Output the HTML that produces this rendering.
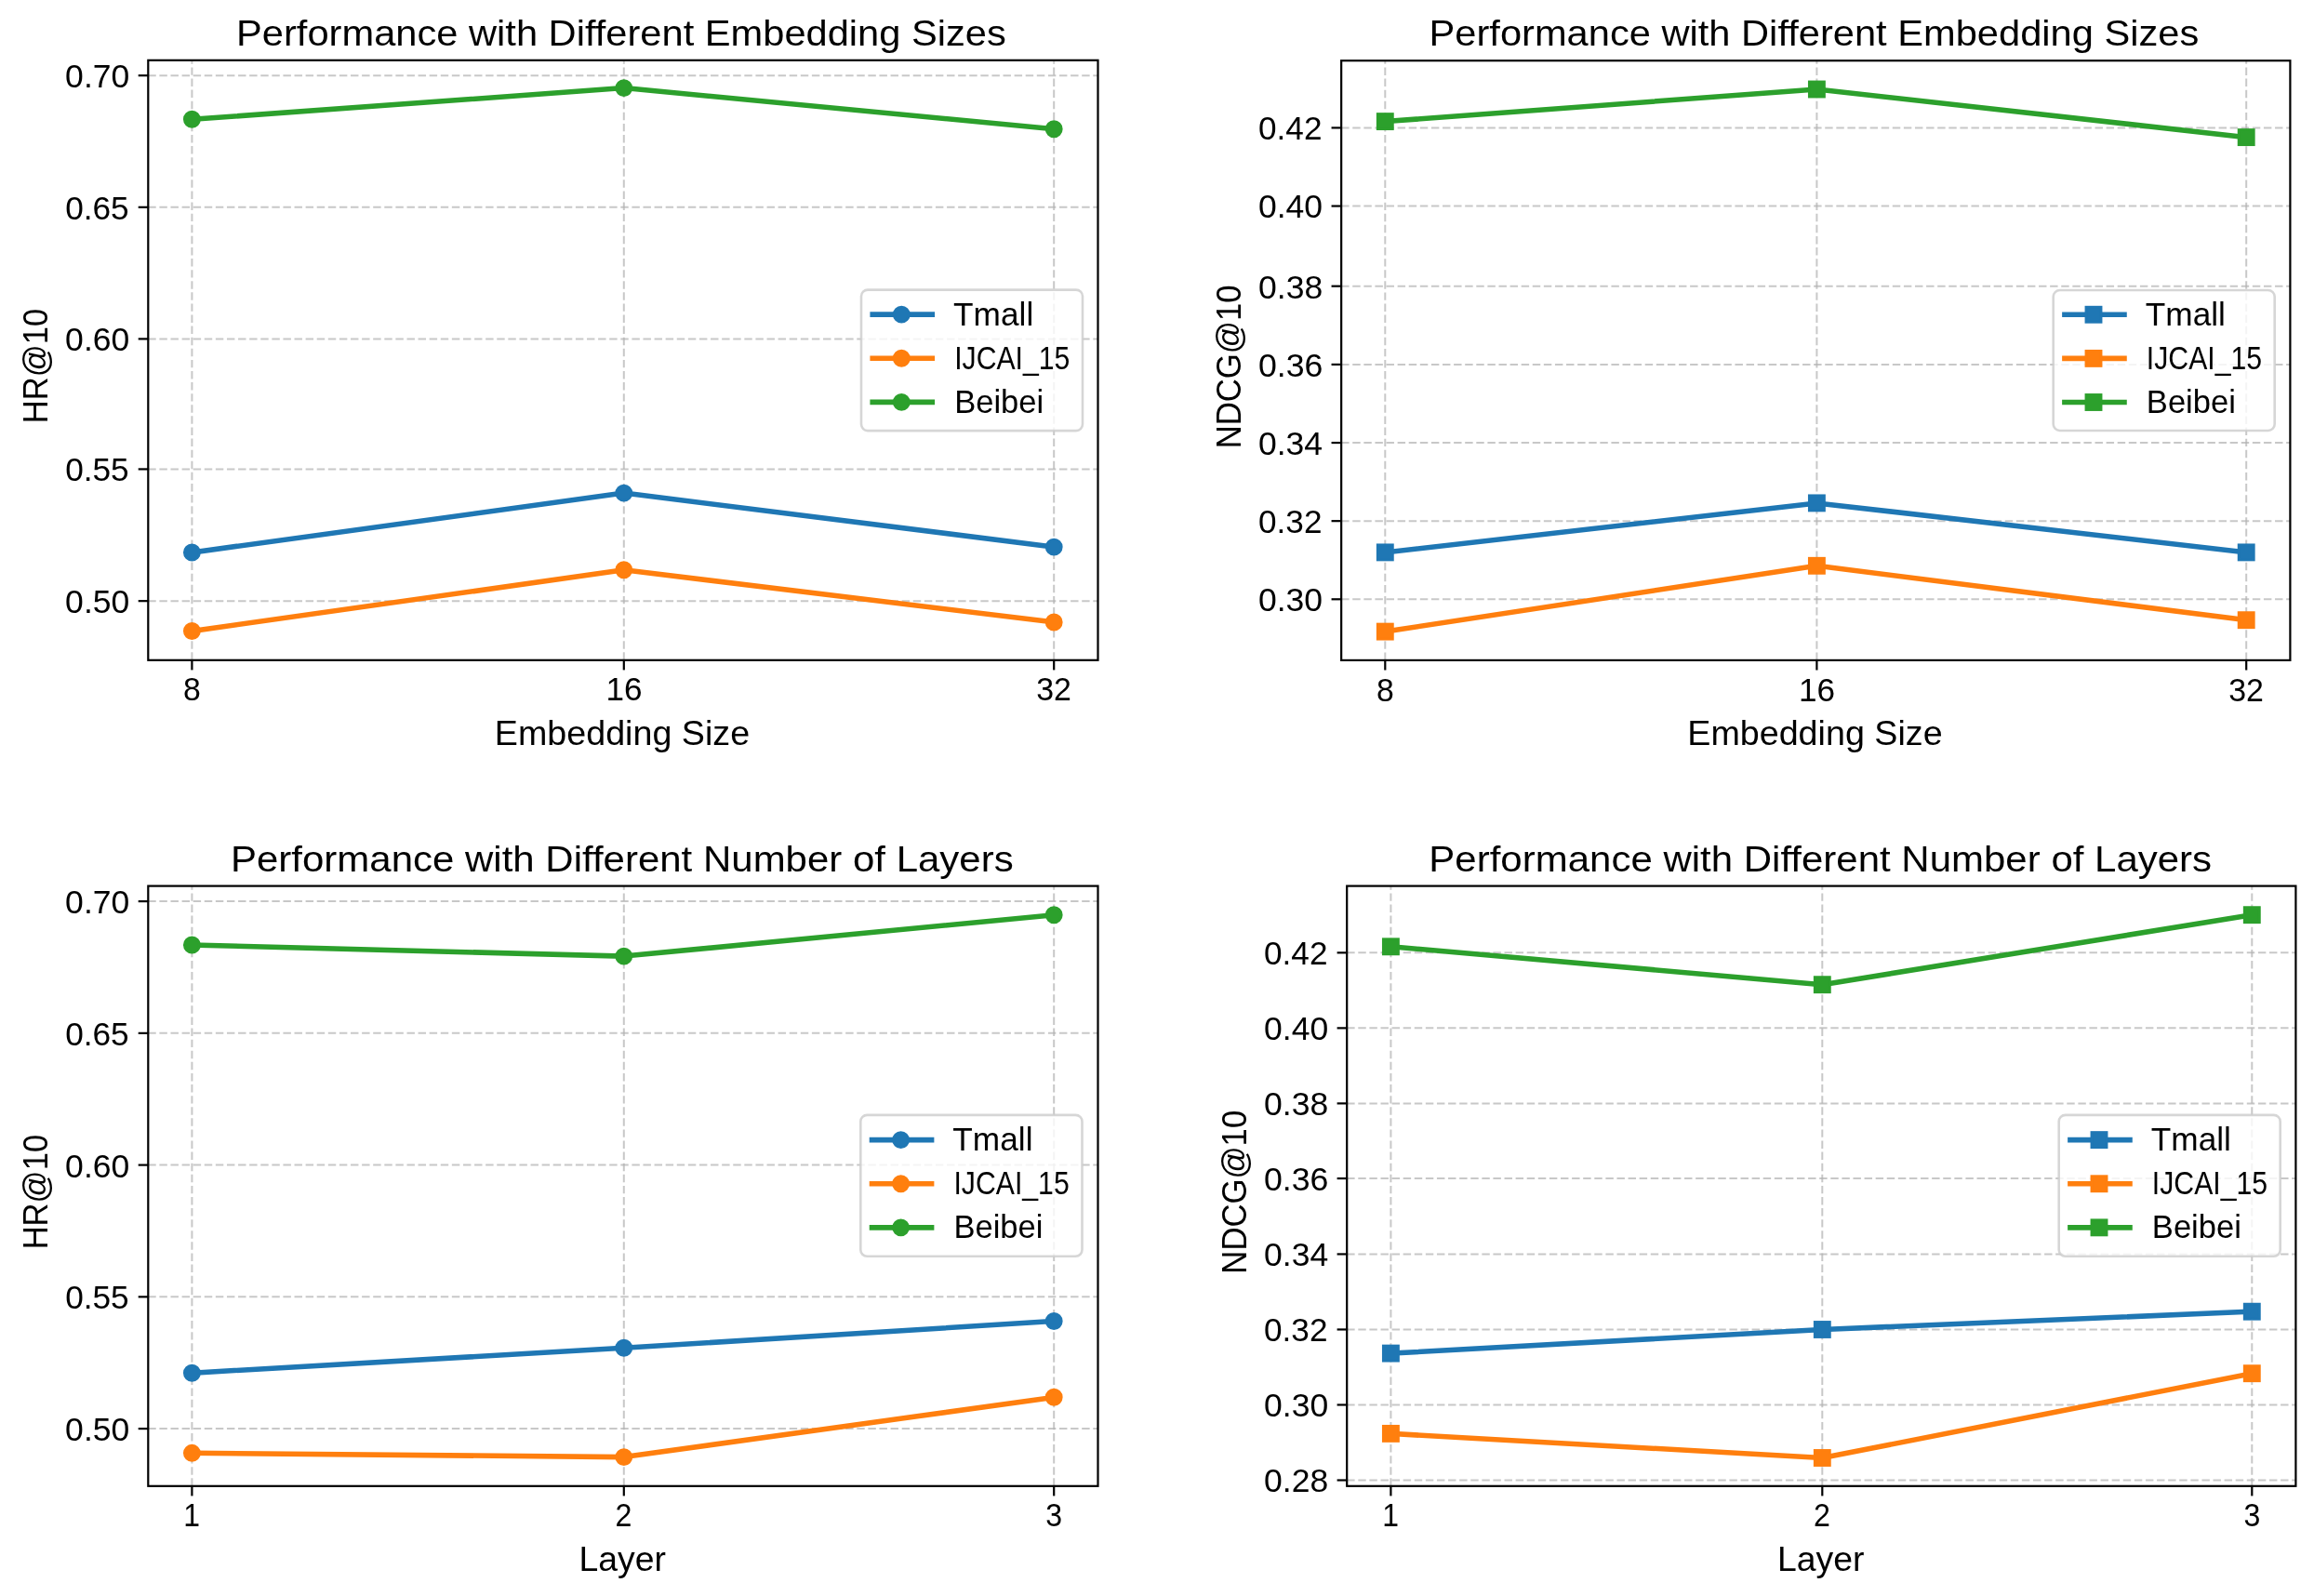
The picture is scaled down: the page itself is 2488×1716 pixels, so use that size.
<!DOCTYPE html>
<html><head><meta charset="utf-8"><title>Performance with Different Embedding Sizes and Number of Layers</title>
<style>
html,body{margin:0;padding:0;background:#fff;}
body{width:2488px;height:1716px;overflow:hidden;}
svg{display:block;}
text{font-family:"Liberation Sans", sans-serif;fill:#000;}
svg{will-change:transform;}
</style></head><body>
<svg width="2488" height="1716" viewBox="0 0 2488 1716">
<rect width="2488" height="1716" fill="#fff"/>
<g id="TL"><line x1="206.4" y1="709.8" x2="206.4" y2="64.8" stroke="#b0b0b0" stroke-opacity="0.7" stroke-width="2.0" stroke-dasharray="8.44 3.655"/>
<line x1="670.8" y1="709.8" x2="670.8" y2="64.8" stroke="#b0b0b0" stroke-opacity="0.7" stroke-width="2.0" stroke-dasharray="8.44 3.655"/>
<line x1="1133.2" y1="709.8" x2="1133.2" y2="64.8" stroke="#b0b0b0" stroke-opacity="0.7" stroke-width="2.0" stroke-dasharray="8.44 3.655"/>
<line x1="159.3" y1="646.18" x2="1180.5" y2="646.18" stroke="#b0b0b0" stroke-opacity="0.7" stroke-width="2.0" stroke-dasharray="8.44 3.655"/>
<line x1="159.3" y1="504.43" x2="1180.5" y2="504.43" stroke="#b0b0b0" stroke-opacity="0.7" stroke-width="2.0" stroke-dasharray="8.44 3.655"/>
<line x1="159.3" y1="364.4" x2="1180.5" y2="364.4" stroke="#b0b0b0" stroke-opacity="0.7" stroke-width="2.0" stroke-dasharray="8.44 3.655"/>
<line x1="159.3" y1="222.8" x2="1180.5" y2="222.8" stroke="#b0b0b0" stroke-opacity="0.7" stroke-width="2.0" stroke-dasharray="8.44 3.655"/>
<line x1="159.3" y1="81.18" x2="1180.5" y2="81.18" stroke="#b0b0b0" stroke-opacity="0.7" stroke-width="2.0" stroke-dasharray="8.44 3.655"/>
<polyline points="206.4,594 670.8,530.1 1133.2,588.1" fill="none" stroke="#1f77b4" stroke-width="5.56" stroke-linejoin="round" stroke-linecap="square"/>
<circle cx="206.4" cy="594" r="8.05" fill="#1f77b4" stroke="#1f77b4" stroke-width="2.78"/>
<circle cx="670.8" cy="530.1" r="8.05" fill="#1f77b4" stroke="#1f77b4" stroke-width="2.78"/>
<circle cx="1133.2" cy="588.1" r="8.05" fill="#1f77b4" stroke="#1f77b4" stroke-width="2.78"/>
<polyline points="206.4,678.5 670.8,612.8 1133.2,669" fill="none" stroke="#ff7f0e" stroke-width="5.56" stroke-linejoin="round" stroke-linecap="square"/>
<circle cx="206.4" cy="678.5" r="8.05" fill="#ff7f0e" stroke="#ff7f0e" stroke-width="2.78"/>
<circle cx="670.8" cy="612.8" r="8.05" fill="#ff7f0e" stroke="#ff7f0e" stroke-width="2.78"/>
<circle cx="1133.2" cy="669" r="8.05" fill="#ff7f0e" stroke="#ff7f0e" stroke-width="2.78"/>
<polyline points="206.4,128.3 670.8,94.6 1133.2,138.7" fill="none" stroke="#2ca02c" stroke-width="5.56" stroke-linejoin="round" stroke-linecap="square"/>
<circle cx="206.4" cy="128.3" r="8.05" fill="#2ca02c" stroke="#2ca02c" stroke-width="2.78"/>
<circle cx="670.8" cy="94.6" r="8.05" fill="#2ca02c" stroke="#2ca02c" stroke-width="2.78"/>
<circle cx="1133.2" cy="138.7" r="8.05" fill="#2ca02c" stroke="#2ca02c" stroke-width="2.78"/>
<rect x="159.3" y="64.8" width="1021.2" height="645" fill="none" stroke="#000" stroke-width="2.2" stroke-linejoin="miter"/>
<line x1="206.4" y1="709.8" x2="206.4" y2="720.4" stroke="#000" stroke-width="2.2"/>
<line x1="670.8" y1="709.8" x2="670.8" y2="720.4" stroke="#000" stroke-width="2.2"/>
<line x1="1133.2" y1="709.8" x2="1133.2" y2="720.4" stroke="#000" stroke-width="2.2"/>
<line x1="148.7" y1="646.18" x2="159.3" y2="646.18" stroke="#000" stroke-width="2.2"/>
<line x1="148.7" y1="504.43" x2="159.3" y2="504.43" stroke="#000" stroke-width="2.2"/>
<line x1="148.7" y1="364.4" x2="159.3" y2="364.4" stroke="#000" stroke-width="2.2"/>
<line x1="148.7" y1="222.8" x2="159.3" y2="222.8" stroke="#000" stroke-width="2.2"/>
<line x1="148.7" y1="81.18" x2="159.3" y2="81.18" stroke="#000" stroke-width="2.2"/>
<text transform="translate(70.12,659.08) scale(1.0330,1)" font-size="34.4">0.50</text>
<text transform="translate(70.14,517.33) scale(1.0243,1)" font-size="34.4">0.55</text>
<text transform="translate(70.12,377.3) scale(1.0330,1)" font-size="34.4">0.60</text>
<text transform="translate(70.14,235.7) scale(1.0243,1)" font-size="34.4">0.65</text>
<text transform="translate(70.12,94.08) scale(1.0330,1)" font-size="34.4">0.70</text>
<text transform="translate(197,753.4) scale(0.9819,1)" font-size="34.4">8</text>
<text transform="translate(651.44,753.4) scale(1.0213,1)" font-size="34.4">16</text>
<text transform="translate(1114.15,753.4) scale(0.9865,1)" font-size="34.4">32</text>
<text transform="translate(254.08,48.8) scale(1.0790,1)" font-size="38.6">Performance with Different Embedding Sizes</text>
<text transform="translate(531.81,800.8) scale(1.0024,1)" font-size="37.6">Embedding Size</text>
<text transform="translate(51.1,455.24) rotate(-90) scale(0.9195,1)" font-size="37.6">HR@10</text>
<rect x="926" y="311.6" width="238" height="151.5" rx="7" ry="7" fill="#fff" fill-opacity="0.8" stroke="#cccccc" stroke-opacity="0.8" stroke-width="2.6"/>
<line x1="938.2" y1="338.1" x2="1002.3" y2="338.1" stroke="#1f77b4" stroke-width="5.56" stroke-linecap="square"/>
<circle cx="969.3" cy="338.1" r="8.05" fill="#1f77b4" stroke="#1f77b4" stroke-width="2.78"/>
<text transform="translate(1025.02,349.6) scale(1.0108,1)" font-size="34.9">Tmall</text>
<line x1="938.2" y1="385.25" x2="1002.3" y2="385.25" stroke="#ff7f0e" stroke-width="5.56" stroke-linecap="square"/>
<circle cx="969.3" cy="385.25" r="8.05" fill="#ff7f0e" stroke="#ff7f0e" stroke-width="2.78"/>
<text transform="translate(1026.17,396.75) scale(0.8659,1)" font-size="34.9">IJCAI_15</text>
<line x1="938.2" y1="432.35" x2="1002.3" y2="432.35" stroke="#2ca02c" stroke-width="5.56" stroke-linecap="square"/>
<circle cx="969.3" cy="432.35" r="8.05" fill="#2ca02c" stroke="#2ca02c" stroke-width="2.78"/>
<text transform="translate(1026.13,443.85) scale(0.9907,1)" font-size="34.9">Beibei</text></g>
<g id="TR"><line x1="1489.3" y1="709.9" x2="1489.3" y2="65.2" stroke="#b0b0b0" stroke-opacity="0.7" stroke-width="2.0" stroke-dasharray="8.44 3.655"/>
<line x1="1953.4" y1="709.9" x2="1953.4" y2="65.2" stroke="#b0b0b0" stroke-opacity="0.7" stroke-width="2.0" stroke-dasharray="8.44 3.655"/>
<line x1="2415.2" y1="709.9" x2="2415.2" y2="65.2" stroke="#b0b0b0" stroke-opacity="0.7" stroke-width="2.0" stroke-dasharray="8.44 3.655"/>
<line x1="1442.15" y1="644.3" x2="2462.4" y2="644.3" stroke="#b0b0b0" stroke-opacity="0.7" stroke-width="2.0" stroke-dasharray="8.44 3.655"/>
<line x1="1442.15" y1="560.18" x2="2462.4" y2="560.18" stroke="#b0b0b0" stroke-opacity="0.7" stroke-width="2.0" stroke-dasharray="8.44 3.655"/>
<line x1="1442.15" y1="476.05" x2="2462.4" y2="476.05" stroke="#b0b0b0" stroke-opacity="0.7" stroke-width="2.0" stroke-dasharray="8.44 3.655"/>
<line x1="1442.15" y1="391.9" x2="2462.4" y2="391.9" stroke="#b0b0b0" stroke-opacity="0.7" stroke-width="2.0" stroke-dasharray="8.44 3.655"/>
<line x1="1442.15" y1="307.68" x2="2462.4" y2="307.68" stroke="#b0b0b0" stroke-opacity="0.7" stroke-width="2.0" stroke-dasharray="8.44 3.655"/>
<line x1="1442.15" y1="221.55" x2="2462.4" y2="221.55" stroke="#b0b0b0" stroke-opacity="0.7" stroke-width="2.0" stroke-dasharray="8.44 3.655"/>
<line x1="1442.15" y1="137.42" x2="2462.4" y2="137.42" stroke="#b0b0b0" stroke-opacity="0.7" stroke-width="2.0" stroke-dasharray="8.44 3.655"/>
<polyline points="1489.3,593.9 1953.4,540.9 2415.2,593.9" fill="none" stroke="#1f77b4" stroke-width="5.56" stroke-linejoin="round" stroke-linecap="square"/>
<rect x="1481.25" y="585.85" width="16.1" height="16.1" fill="#1f77b4" stroke="#1f77b4" stroke-width="2.78" stroke-linejoin="miter"/>
<rect x="1945.35" y="532.85" width="16.1" height="16.1" fill="#1f77b4" stroke="#1f77b4" stroke-width="2.78" stroke-linejoin="miter"/>
<rect x="2407.15" y="585.85" width="16.1" height="16.1" fill="#1f77b4" stroke="#1f77b4" stroke-width="2.78" stroke-linejoin="miter"/>
<polyline points="1489.3,679.1 1953.4,608.3 2415.2,666.7" fill="none" stroke="#ff7f0e" stroke-width="5.56" stroke-linejoin="round" stroke-linecap="square"/>
<rect x="1481.25" y="671.05" width="16.1" height="16.1" fill="#ff7f0e" stroke="#ff7f0e" stroke-width="2.78" stroke-linejoin="miter"/>
<rect x="1945.35" y="600.25" width="16.1" height="16.1" fill="#ff7f0e" stroke="#ff7f0e" stroke-width="2.78" stroke-linejoin="miter"/>
<rect x="2407.15" y="658.65" width="16.1" height="16.1" fill="#ff7f0e" stroke="#ff7f0e" stroke-width="2.78" stroke-linejoin="miter"/>
<polyline points="1489.3,130.6 1953.4,96 2415.2,147.6" fill="none" stroke="#2ca02c" stroke-width="5.56" stroke-linejoin="round" stroke-linecap="square"/>
<rect x="1481.25" y="122.55" width="16.1" height="16.1" fill="#2ca02c" stroke="#2ca02c" stroke-width="2.78" stroke-linejoin="miter"/>
<rect x="1945.35" y="87.95" width="16.1" height="16.1" fill="#2ca02c" stroke="#2ca02c" stroke-width="2.78" stroke-linejoin="miter"/>
<rect x="2407.15" y="139.55" width="16.1" height="16.1" fill="#2ca02c" stroke="#2ca02c" stroke-width="2.78" stroke-linejoin="miter"/>
<rect x="1442.15" y="65.2" width="1020.25" height="644.7" fill="none" stroke="#000" stroke-width="2.2" stroke-linejoin="miter"/>
<line x1="1489.3" y1="709.9" x2="1489.3" y2="720.5" stroke="#000" stroke-width="2.2"/>
<line x1="1953.4" y1="709.9" x2="1953.4" y2="720.5" stroke="#000" stroke-width="2.2"/>
<line x1="2415.2" y1="709.9" x2="2415.2" y2="720.5" stroke="#000" stroke-width="2.2"/>
<line x1="1431.55" y1="644.3" x2="1442.15" y2="644.3" stroke="#000" stroke-width="2.2"/>
<line x1="1431.55" y1="560.18" x2="1442.15" y2="560.18" stroke="#000" stroke-width="2.2"/>
<line x1="1431.55" y1="476.05" x2="1442.15" y2="476.05" stroke="#000" stroke-width="2.2"/>
<line x1="1431.55" y1="391.9" x2="1442.15" y2="391.9" stroke="#000" stroke-width="2.2"/>
<line x1="1431.55" y1="307.68" x2="1442.15" y2="307.68" stroke="#000" stroke-width="2.2"/>
<line x1="1431.55" y1="221.55" x2="1442.15" y2="221.55" stroke="#000" stroke-width="2.2"/>
<line x1="1431.55" y1="137.42" x2="1442.15" y2="137.42" stroke="#000" stroke-width="2.2"/>
<text transform="translate(1352.97,657.2) scale(1.0330,1)" font-size="34.4">0.30</text>
<text transform="translate(1352.99,573.08) scale(1.0226,1)" font-size="34.4">0.32</text>
<text transform="translate(1352.98,488.95) scale(1.0327,1)" font-size="34.4">0.34</text>
<text transform="translate(1352.97,404.8) scale(1.0374,1)" font-size="34.4">0.36</text>
<text transform="translate(1352.97,320.58) scale(1.0345,1)" font-size="34.4">0.38</text>
<text transform="translate(1352.97,234.45) scale(1.0330,1)" font-size="34.4">0.40</text>
<text transform="translate(1352.99,150.32) scale(1.0226,1)" font-size="34.4">0.42</text>
<text transform="translate(1479.9,753.5) scale(0.9819,1)" font-size="34.4">8</text>
<text transform="translate(1934.04,753.5) scale(1.0213,1)" font-size="34.4">16</text>
<text transform="translate(2396.15,753.5) scale(0.9865,1)" font-size="34.4">32</text>
<text transform="translate(1536.53,48.8) scale(1.0790,1)" font-size="38.6">Performance with Different Embedding Sizes</text>
<text transform="translate(1814.26,800.8) scale(1.0024,1)" font-size="37.6">Embedding Size</text>
<text transform="translate(1334.1,482.35) rotate(-90) scale(0.9224,1)" font-size="37.6">NDCG@10</text>
<rect x="2207.7" y="312" width="238" height="151" rx="7" ry="7" fill="#fff" fill-opacity="0.8" stroke="#cccccc" stroke-opacity="0.8" stroke-width="2.6"/>
<line x1="2219.9" y1="338.25" x2="2284" y2="338.25" stroke="#1f77b4" stroke-width="5.56" stroke-linecap="square"/>
<rect x="2242.95" y="330.2" width="16.1" height="16.1" fill="#1f77b4" stroke="#1f77b4" stroke-width="2.78" stroke-linejoin="miter"/>
<text transform="translate(2306.72,349.75) scale(1.0108,1)" font-size="34.9">Tmall</text>
<line x1="2219.9" y1="385.4" x2="2284" y2="385.4" stroke="#ff7f0e" stroke-width="5.56" stroke-linecap="square"/>
<rect x="2242.95" y="377.35" width="16.1" height="16.1" fill="#ff7f0e" stroke="#ff7f0e" stroke-width="2.78" stroke-linejoin="miter"/>
<text transform="translate(2307.87,396.9) scale(0.8659,1)" font-size="34.9">IJCAI_15</text>
<line x1="2219.9" y1="432.5" x2="2284" y2="432.5" stroke="#2ca02c" stroke-width="5.56" stroke-linecap="square"/>
<rect x="2242.95" y="424.45" width="16.1" height="16.1" fill="#2ca02c" stroke="#2ca02c" stroke-width="2.78" stroke-linejoin="miter"/>
<text transform="translate(2307.83,444) scale(0.9907,1)" font-size="34.9">Beibei</text></g>
<g id="BL"><line x1="206.4" y1="1597.8" x2="206.4" y2="952.6" stroke="#b0b0b0" stroke-opacity="0.7" stroke-width="2.0" stroke-dasharray="8.44 3.655"/>
<line x1="670.8" y1="1597.8" x2="670.8" y2="952.6" stroke="#b0b0b0" stroke-opacity="0.7" stroke-width="2.0" stroke-dasharray="8.44 3.655"/>
<line x1="1133.2" y1="1597.8" x2="1133.2" y2="952.6" stroke="#b0b0b0" stroke-opacity="0.7" stroke-width="2.0" stroke-dasharray="8.44 3.655"/>
<line x1="159.3" y1="1536.1" x2="1180.5" y2="1536.1" stroke="#b0b0b0" stroke-opacity="0.7" stroke-width="2.0" stroke-dasharray="8.44 3.655"/>
<line x1="159.3" y1="1394.35" x2="1180.5" y2="1394.35" stroke="#b0b0b0" stroke-opacity="0.7" stroke-width="2.0" stroke-dasharray="8.44 3.655"/>
<line x1="159.3" y1="1252.6" x2="1180.5" y2="1252.6" stroke="#b0b0b0" stroke-opacity="0.7" stroke-width="2.0" stroke-dasharray="8.44 3.655"/>
<line x1="159.3" y1="1110.85" x2="1180.5" y2="1110.85" stroke="#b0b0b0" stroke-opacity="0.7" stroke-width="2.0" stroke-dasharray="8.44 3.655"/>
<line x1="159.3" y1="969.1" x2="1180.5" y2="969.1" stroke="#b0b0b0" stroke-opacity="0.7" stroke-width="2.0" stroke-dasharray="8.44 3.655"/>
<polyline points="206.4,1476.2 670.8,1449.3 1133.2,1420.5" fill="none" stroke="#1f77b4" stroke-width="5.56" stroke-linejoin="round" stroke-linecap="square"/>
<circle cx="206.4" cy="1476.2" r="8.05" fill="#1f77b4" stroke="#1f77b4" stroke-width="2.78"/>
<circle cx="670.8" cy="1449.3" r="8.05" fill="#1f77b4" stroke="#1f77b4" stroke-width="2.78"/>
<circle cx="1133.2" cy="1420.5" r="8.05" fill="#1f77b4" stroke="#1f77b4" stroke-width="2.78"/>
<polyline points="206.4,1562.3 670.8,1566.6 1133.2,1502.3" fill="none" stroke="#ff7f0e" stroke-width="5.56" stroke-linejoin="round" stroke-linecap="square"/>
<circle cx="206.4" cy="1562.3" r="8.05" fill="#ff7f0e" stroke="#ff7f0e" stroke-width="2.78"/>
<circle cx="670.8" cy="1566.6" r="8.05" fill="#ff7f0e" stroke="#ff7f0e" stroke-width="2.78"/>
<circle cx="1133.2" cy="1502.3" r="8.05" fill="#ff7f0e" stroke="#ff7f0e" stroke-width="2.78"/>
<polyline points="206.4,1016 670.8,1028.1 1133.2,983.7" fill="none" stroke="#2ca02c" stroke-width="5.56" stroke-linejoin="round" stroke-linecap="square"/>
<circle cx="206.4" cy="1016" r="8.05" fill="#2ca02c" stroke="#2ca02c" stroke-width="2.78"/>
<circle cx="670.8" cy="1028.1" r="8.05" fill="#2ca02c" stroke="#2ca02c" stroke-width="2.78"/>
<circle cx="1133.2" cy="983.7" r="8.05" fill="#2ca02c" stroke="#2ca02c" stroke-width="2.78"/>
<rect x="159.3" y="952.6" width="1021.2" height="645.2" fill="none" stroke="#000" stroke-width="2.2" stroke-linejoin="miter"/>
<line x1="206.4" y1="1597.8" x2="206.4" y2="1608.4" stroke="#000" stroke-width="2.2"/>
<line x1="670.8" y1="1597.8" x2="670.8" y2="1608.4" stroke="#000" stroke-width="2.2"/>
<line x1="1133.2" y1="1597.8" x2="1133.2" y2="1608.4" stroke="#000" stroke-width="2.2"/>
<line x1="148.7" y1="1536.1" x2="159.3" y2="1536.1" stroke="#000" stroke-width="2.2"/>
<line x1="148.7" y1="1394.35" x2="159.3" y2="1394.35" stroke="#000" stroke-width="2.2"/>
<line x1="148.7" y1="1252.6" x2="159.3" y2="1252.6" stroke="#000" stroke-width="2.2"/>
<line x1="148.7" y1="1110.85" x2="159.3" y2="1110.85" stroke="#000" stroke-width="2.2"/>
<line x1="148.7" y1="969.1" x2="159.3" y2="969.1" stroke="#000" stroke-width="2.2"/>
<text transform="translate(70.12,1549) scale(1.0330,1)" font-size="34.4">0.50</text>
<text transform="translate(70.14,1407.25) scale(1.0243,1)" font-size="34.4">0.55</text>
<text transform="translate(70.12,1265.5) scale(1.0330,1)" font-size="34.4">0.60</text>
<text transform="translate(70.14,1123.75) scale(1.0243,1)" font-size="34.4">0.65</text>
<text transform="translate(70.12,982) scale(1.0330,1)" font-size="34.4">0.70</text>
<text transform="translate(197.37,1641.4) scale(0.9278,1)" font-size="34.4">1</text>
<text transform="translate(661.42,1641.4) scale(0.9363,1)" font-size="34.4">2</text>
<text transform="translate(1124.31,1641.4) scale(0.9329,1)" font-size="34.4">3</text>
<text transform="translate(247.95,937) scale(1.0881,1)" font-size="38.6">Performance with Different Number of Layers</text>
<text transform="translate(622.53,1688.9) scale(0.9940,1)" font-size="37.6">Layer</text>
<text transform="translate(51.1,1343.34) rotate(-90) scale(0.9195,1)" font-size="37.6">HR@10</text>
<rect x="925.3" y="1198.9" width="238.2" height="151.9" rx="7" ry="7" fill="#fff" fill-opacity="0.8" stroke="#cccccc" stroke-opacity="0.8" stroke-width="2.6"/>
<line x1="937.5" y1="1225.6" x2="1001.6" y2="1225.6" stroke="#1f77b4" stroke-width="5.56" stroke-linecap="square"/>
<circle cx="968.6" cy="1225.6" r="8.05" fill="#1f77b4" stroke="#1f77b4" stroke-width="2.78"/>
<text transform="translate(1024.32,1237.1) scale(1.0108,1)" font-size="34.9">Tmall</text>
<line x1="937.5" y1="1272.75" x2="1001.6" y2="1272.75" stroke="#ff7f0e" stroke-width="5.56" stroke-linecap="square"/>
<circle cx="968.6" cy="1272.75" r="8.05" fill="#ff7f0e" stroke="#ff7f0e" stroke-width="2.78"/>
<text transform="translate(1025.47,1284.25) scale(0.8659,1)" font-size="34.9">IJCAI_15</text>
<line x1="937.5" y1="1319.85" x2="1001.6" y2="1319.85" stroke="#2ca02c" stroke-width="5.56" stroke-linecap="square"/>
<circle cx="968.6" cy="1319.85" r="8.05" fill="#2ca02c" stroke="#2ca02c" stroke-width="2.78"/>
<text transform="translate(1025.43,1331.35) scale(0.9907,1)" font-size="34.9">Beibei</text></g>
<g id="BR"><line x1="1495.4" y1="1597.8" x2="1495.4" y2="952.6" stroke="#b0b0b0" stroke-opacity="0.7" stroke-width="2.0" stroke-dasharray="8.44 3.655"/>
<line x1="1959.3" y1="1597.8" x2="1959.3" y2="952.6" stroke="#b0b0b0" stroke-opacity="0.7" stroke-width="2.0" stroke-dasharray="8.44 3.655"/>
<line x1="2421.3" y1="1597.8" x2="2421.3" y2="952.6" stroke="#b0b0b0" stroke-opacity="0.7" stroke-width="2.0" stroke-dasharray="8.44 3.655"/>
<line x1="1448.2" y1="1591.5" x2="2468.4" y2="1591.5" stroke="#b0b0b0" stroke-opacity="0.7" stroke-width="2.0" stroke-dasharray="8.44 3.655"/>
<line x1="1448.2" y1="1510.48" x2="2468.4" y2="1510.48" stroke="#b0b0b0" stroke-opacity="0.7" stroke-width="2.0" stroke-dasharray="8.44 3.655"/>
<line x1="1448.2" y1="1429.46" x2="2468.4" y2="1429.46" stroke="#b0b0b0" stroke-opacity="0.7" stroke-width="2.0" stroke-dasharray="8.44 3.655"/>
<line x1="1448.2" y1="1348.44" x2="2468.4" y2="1348.44" stroke="#b0b0b0" stroke-opacity="0.7" stroke-width="2.0" stroke-dasharray="8.44 3.655"/>
<line x1="1448.2" y1="1267.05" x2="2468.4" y2="1267.05" stroke="#b0b0b0" stroke-opacity="0.7" stroke-width="2.0" stroke-dasharray="8.44 3.655"/>
<line x1="1448.2" y1="1186.39" x2="2468.4" y2="1186.39" stroke="#b0b0b0" stroke-opacity="0.7" stroke-width="2.0" stroke-dasharray="8.44 3.655"/>
<line x1="1448.2" y1="1105.37" x2="2468.4" y2="1105.37" stroke="#b0b0b0" stroke-opacity="0.7" stroke-width="2.0" stroke-dasharray="8.44 3.655"/>
<line x1="1448.2" y1="1024.35" x2="2468.4" y2="1024.35" stroke="#b0b0b0" stroke-opacity="0.7" stroke-width="2.0" stroke-dasharray="8.44 3.655"/>
<polyline points="1495.4,1455.1 1959.3,1429.5 2421.3,1410.2" fill="none" stroke="#1f77b4" stroke-width="5.56" stroke-linejoin="round" stroke-linecap="square"/>
<rect x="1487.35" y="1447.05" width="16.1" height="16.1" fill="#1f77b4" stroke="#1f77b4" stroke-width="2.78" stroke-linejoin="miter"/>
<rect x="1951.25" y="1421.45" width="16.1" height="16.1" fill="#1f77b4" stroke="#1f77b4" stroke-width="2.78" stroke-linejoin="miter"/>
<rect x="2413.25" y="1402.15" width="16.1" height="16.1" fill="#1f77b4" stroke="#1f77b4" stroke-width="2.78" stroke-linejoin="miter"/>
<polyline points="1495.4,1541.4 1959.3,1567.5 2421.3,1476.7" fill="none" stroke="#ff7f0e" stroke-width="5.56" stroke-linejoin="round" stroke-linecap="square"/>
<rect x="1487.35" y="1533.35" width="16.1" height="16.1" fill="#ff7f0e" stroke="#ff7f0e" stroke-width="2.78" stroke-linejoin="miter"/>
<rect x="1951.25" y="1559.45" width="16.1" height="16.1" fill="#ff7f0e" stroke="#ff7f0e" stroke-width="2.78" stroke-linejoin="miter"/>
<rect x="2413.25" y="1468.65" width="16.1" height="16.1" fill="#ff7f0e" stroke="#ff7f0e" stroke-width="2.78" stroke-linejoin="miter"/>
<polyline points="1495.4,1017.8 1959.3,1058.7 2421.3,983.7" fill="none" stroke="#2ca02c" stroke-width="5.56" stroke-linejoin="round" stroke-linecap="square"/>
<rect x="1487.35" y="1009.75" width="16.1" height="16.1" fill="#2ca02c" stroke="#2ca02c" stroke-width="2.78" stroke-linejoin="miter"/>
<rect x="1951.25" y="1050.65" width="16.1" height="16.1" fill="#2ca02c" stroke="#2ca02c" stroke-width="2.78" stroke-linejoin="miter"/>
<rect x="2413.25" y="975.65" width="16.1" height="16.1" fill="#2ca02c" stroke="#2ca02c" stroke-width="2.78" stroke-linejoin="miter"/>
<rect x="1448.2" y="952.6" width="1020.2" height="645.2" fill="none" stroke="#000" stroke-width="2.2" stroke-linejoin="miter"/>
<line x1="1495.4" y1="1597.8" x2="1495.4" y2="1608.4" stroke="#000" stroke-width="2.2"/>
<line x1="1959.3" y1="1597.8" x2="1959.3" y2="1608.4" stroke="#000" stroke-width="2.2"/>
<line x1="2421.3" y1="1597.8" x2="2421.3" y2="1608.4" stroke="#000" stroke-width="2.2"/>
<line x1="1437.6" y1="1591.5" x2="1448.2" y2="1591.5" stroke="#000" stroke-width="2.2"/>
<line x1="1437.6" y1="1510.48" x2="1448.2" y2="1510.48" stroke="#000" stroke-width="2.2"/>
<line x1="1437.6" y1="1429.46" x2="1448.2" y2="1429.46" stroke="#000" stroke-width="2.2"/>
<line x1="1437.6" y1="1348.44" x2="1448.2" y2="1348.44" stroke="#000" stroke-width="2.2"/>
<line x1="1437.6" y1="1267.05" x2="1448.2" y2="1267.05" stroke="#000" stroke-width="2.2"/>
<line x1="1437.6" y1="1186.39" x2="1448.2" y2="1186.39" stroke="#000" stroke-width="2.2"/>
<line x1="1437.6" y1="1105.37" x2="1448.2" y2="1105.37" stroke="#000" stroke-width="2.2"/>
<line x1="1437.6" y1="1024.35" x2="1448.2" y2="1024.35" stroke="#000" stroke-width="2.2"/>
<text transform="translate(1359.02,1604.4) scale(1.0345,1)" font-size="34.4">0.28</text>
<text transform="translate(1359.02,1523.38) scale(1.0330,1)" font-size="34.4">0.30</text>
<text transform="translate(1359.04,1442.36) scale(1.0226,1)" font-size="34.4">0.32</text>
<text transform="translate(1359.03,1361.34) scale(1.0327,1)" font-size="34.4">0.34</text>
<text transform="translate(1359.02,1279.95) scale(1.0374,1)" font-size="34.4">0.36</text>
<text transform="translate(1359.02,1199.29) scale(1.0345,1)" font-size="34.4">0.38</text>
<text transform="translate(1359.02,1118.27) scale(1.0330,1)" font-size="34.4">0.40</text>
<text transform="translate(1359.04,1037.25) scale(1.0226,1)" font-size="34.4">0.42</text>
<text transform="translate(1486.37,1641.4) scale(0.9278,1)" font-size="34.4">1</text>
<text transform="translate(1949.92,1641.4) scale(0.9363,1)" font-size="34.4">2</text>
<text transform="translate(2412.41,1641.4) scale(0.9329,1)" font-size="34.4">3</text>
<text transform="translate(1536.35,937) scale(1.0881,1)" font-size="38.6">Performance with Different Number of Layers</text>
<text transform="translate(1910.93,1688.9) scale(0.9940,1)" font-size="37.6">Layer</text>
<text transform="translate(1340,1369.65) rotate(-90) scale(0.9224,1)" font-size="37.6">NDCG@10</text>
<rect x="2213.7" y="1198.9" width="238" height="151.9" rx="7" ry="7" fill="#fff" fill-opacity="0.8" stroke="#cccccc" stroke-opacity="0.8" stroke-width="2.6"/>
<line x1="2225.9" y1="1225.6" x2="2290" y2="1225.6" stroke="#1f77b4" stroke-width="5.56" stroke-linecap="square"/>
<rect x="2248.95" y="1217.55" width="16.1" height="16.1" fill="#1f77b4" stroke="#1f77b4" stroke-width="2.78" stroke-linejoin="miter"/>
<text transform="translate(2312.72,1237.1) scale(1.0108,1)" font-size="34.9">Tmall</text>
<line x1="2225.9" y1="1272.75" x2="2290" y2="1272.75" stroke="#ff7f0e" stroke-width="5.56" stroke-linecap="square"/>
<rect x="2248.95" y="1264.7" width="16.1" height="16.1" fill="#ff7f0e" stroke="#ff7f0e" stroke-width="2.78" stroke-linejoin="miter"/>
<text transform="translate(2313.87,1284.25) scale(0.8659,1)" font-size="34.9">IJCAI_15</text>
<line x1="2225.9" y1="1319.85" x2="2290" y2="1319.85" stroke="#2ca02c" stroke-width="5.56" stroke-linecap="square"/>
<rect x="2248.95" y="1311.8" width="16.1" height="16.1" fill="#2ca02c" stroke="#2ca02c" stroke-width="2.78" stroke-linejoin="miter"/>
<text transform="translate(2313.83,1331.35) scale(0.9907,1)" font-size="34.9">Beibei</text></g>
</svg>
</body></html>
